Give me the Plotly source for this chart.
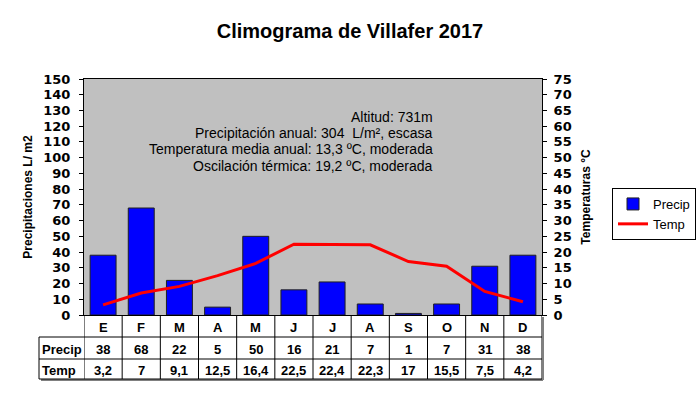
import plotly.graph_objects as go

months = ["E", "F", "M", "A", "M", "J", "J", "A", "S", "O", "N", "D"]
precip = [38, 68, 22, 5, 50, 16, 21, 7, 1, 7, 31, 38]
temp = [3.2, 7, 9.1, 12.5, 16.4, 22.5, 22.4, 22.3, 17, 15.5, 7.5, 4.2]
left_ticks = list(range(0, 151, 10))
right_ticks = list(range(0, 76, 5))
info_lines = [
    "Altitud: 731m",
    "Precipitación anual: 304  L/m², escasa",
    "Temperatura media anual: 13,3 ºC, moderada",
    "Oscilación térmica: 19,2 ºC, moderada",
]
title = "Climograma de Villafer 2017"

W, H = 700, 395
L, R, T, B = 84, 542, 79, 315
pw, ph = R - L, B - T

def py(p):
    return (B - p) / ph

def px(p):
    return (p - L) / pw

def fmt(v):
    return ("%g" % v).replace(".", ",")

xs = list(range(len(months)))

fig = go.Figure()
fig.add_trace(go.Bar(
    x=xs, y=precip, name="Precip",
    marker=dict(color="#0000FF", line=dict(color="#202020", width=1)),
    yaxis="y",
))
fig.add_trace(go.Scatter(
    x=xs, y=temp, name="Temp", mode="lines",
    line=dict(color="#FF0000", width=3),
    yaxis="y2",
))

tickfont = dict(family="DejaVu Sans", size=13, color="black", weight="bold")
fig.update_layout(
    template="none",
    width=W, height=H,
    margin=dict(l=L, r=W - R, t=T, b=H - B, pad=0, autoexpand=False),
    paper_bgcolor="white",
    plot_bgcolor="#C0C0C0",
    bargap=0.32,
    showlegend=True,
    title=dict(text="<b>" + title + "</b>", x=350 / W, xanchor="center", xref="container",
               y=1 - 31 / H, yanchor="middle", yref="container",
               font=dict(family="Liberation Sans", size=20, color="black")),
    xaxis=dict(range=[-0.5, len(months) - 0.5], showticklabels=False, ticks="",
               showgrid=False, zeroline=False, showline=True, linecolor="black",
               linewidth=1, mirror=True, fixedrange=True, automargin=False),
    yaxis=dict(range=[0, 150], tickvals=left_ticks, ticks="outside", ticklen=4,
               tickcolor="black", showgrid=False, zeroline=False, showline=True,
               linecolor="black", linewidth=1, tickfont=tickfont, ticklabelstandoff=6,
               automargin=False,
               title=dict(text="<b>Precipitaciones L/ m2</b>", standoff=8,
                          font=dict(family="Liberation Sans", size=12, color="black"))),
    yaxis2=dict(range=[0, 75], tickvals=right_ticks, overlaying="y", side="right",
                ticks="outside", ticklen=4, tickcolor="black", showgrid=False,
                zeroline=False, showline=True, linecolor="black", linewidth=1,
                tickfont=tickfont, ticklabelstandoff=4, automargin=False,
                title=dict(text="<b>Temperaturas °C</b>", standoff=10,
                           font=dict(family="Liberation Sans", size=12, color="black"))),
    legend=dict(x=px(612), y=py(188), xanchor="left", yanchor="top",
                bordercolor="black", borderwidth=1, bgcolor="white",
                font=dict(family="Liberation Sans", size=13, color="black"),
                tracegroupgap=0, itemwidth=30),
)

# info text block
line_y = [117, 133, 149, 166]
for txt, yy in zip(info_lines, line_y):
    fig.add_annotation(x=px(435), y=py(yy), xref="paper", yref="paper", text=txt,
                       showarrow=False, xanchor="right", yanchor="middle",
                       font=dict(family="Liberation Sans", size=14, color="black"))

# table
shapes = []
lc = dict(color="black", width=1)
sh = dict(color="#808080", width=2)
y_cat_bot, y_p_bot, y_t_bot = 337, 359, 379
x_lab = 39
shapes.append(dict(type="line", xref="paper", yref="paper", x0=px(x_lab + 2), x1=px(R + 1),
                   y0=py(y_t_bot + 1), y1=py(y_t_bot + 1), line=sh))
shapes.append(dict(type="line", xref="paper", yref="paper", x0=px(R + 1), x1=px(R + 1),
                   y0=py(B + 2), y1=py(y_t_bot + 1), line=sh))
for yy in [y_cat_bot, y_p_bot, y_t_bot]:
    shapes.append(dict(type="line", xref="paper", yref="paper", x0=px(x_lab), x1=1,
                       y0=py(yy), y1=py(yy), line=lc))
shapes.append(dict(type="line", xref="paper", yref="paper", x0=px(x_lab), x1=px(x_lab),
                   y0=py(y_cat_bot), y1=py(y_t_bot), line=lc))
for i in range(len(months) + 1):
    shapes.append(dict(type="line", xref="x", yref="paper", x0=i - 0.5, x1=i - 0.5,
                       y0=0, y1=py(y_t_bot), line=lc))
fig.update_layout(shapes=shapes)

cellfont = dict(family="Liberation Sans", size=13, color="black")
rows = [((B + y_cat_bot) / 2, list(months)),
        ((y_cat_bot + y_p_bot) / 2, [fmt(v) for v in precip]),
        ((y_p_bot + y_t_bot) / 2, [fmt(v) for v in temp])]
for yc, vals in rows:
    for i, v in enumerate(vals):
        fig.add_annotation(x=i, y=py(yc + 1), xref="x", yref="paper", text="<b>" + v + "</b>",
                           showarrow=False, xanchor="center", yanchor="middle", font=cellfont)
for lab, yc in [("Precip", (y_cat_bot + y_p_bot) / 2), ("Temp", (y_p_bot + y_t_bot) / 2)]:
    fig.add_annotation(x=px(x_lab + 1), y=py(yc + 1), xref="paper", yref="paper",
                       text="<b>" + lab + "</b>", showarrow=False, xanchor="left",
                       yanchor="middle", font=cellfont)

fig.write_html("out.html", config={"displayModeBar": False},
               post_script="document.body.style.margin='0';document.body.style.overflow='hidden';")
